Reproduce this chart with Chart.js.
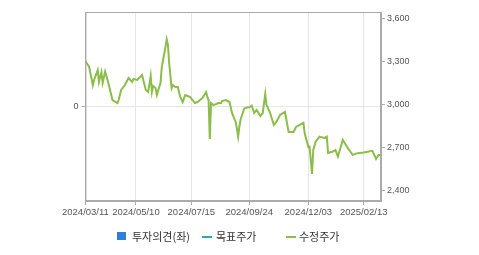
<!DOCTYPE html>
<html>
<head>
<meta charset="utf-8">
<script src="https://cdn.jsdelivr.net/npm/chart.js@4"></script>
<style>
  body { margin: 0; background: #fff; width: 479px; height: 255px; overflow: hidden; position: relative; }
  #wrap { position: absolute; left: 60px; top: 0; width: 419px; height: 255px; }
  .legend { position: absolute; top: 228px; height: 16px; font: 11px "Noto Sans CJK KR", sans-serif; color: #333; line-height: 16px; white-space: nowrap; }
  .legend span { position: absolute; }
  .box { width: 9px; height: 8px; top: 4px; background: #2e7de1; }
  .ln { width: 10px; height: 2px; top: 8px; }
</style>
</head>
<body>
<div id="wrap"><canvas id="chart"></canvas></div>
<div class="legend" style="left:117px"><span class="box" style="left:0"></span><span style="left:15px">투자의견(좌)</span></div>
<div class="legend" style="left:202px"><span class="ln" style="left:0;background:#2aa7b8"></span><span style="left:14px">목표주가</span></div>
<div class="legend" style="left:286px"><span class="ln" style="left:0;background:#8cbd4a"></span><span style="left:13px">수정주가</span></div>
<script>
// ── Data ──────────────────────────────────────────────────────────────────────
// x = trading-day index from 2024/03/11, y = adjusted price (수정주가)
const priceDays = [
    0, 3, 6, 7, 10, 11, 13, 14, 16, 18, 22, 26, 27, 29, 32, 35, 38, 39, 42, 46,
    49, 51, 53, 54, 55, 57, 58, 61, 62, 65, 66, 67, 68, 70, 71, 73, 75, 77, 79, 81,
    83, 85, 87, 89, 91, 93, 95, 98, 99, 100, 101, 102, 104, 106, 108, 110, 111, 114, 117, 119,
    122, 123, 124, 125, 126, 129, 131, 133, 135, 137, 139, 142, 144, 146, 147, 150, 153, 155, 158, 162,
    165, 169, 171, 174, 177, 178, 181, 182, 184, 185, 187, 190, 194, 196, 197, 201, 203, 205, 209, 213,
    217, 221, 226, 233, 236, 238, 240,
];
const priceValues = [
    3300, 3262, 3135, 3170, 3239, 3156, 3225, 3150, 3228, 3170, 3031, 3010, 3031, 3101, 3135, 3184, 3156, 3177, 3170, 3205,
    3101, 3087, 3198, 3087, 3128, 3114, 3066, 3150, 3260, 3399, 3452, 3413, 3288, 3114, 3135, 3121, 3121, 3052, 3017, 3066,
    3059, 3052, 3031, 3010, 3017, 3031, 3045, 3087, 3052, 3031, 2761, 3010, 2996, 3003, 3010, 3010, 3024, 3031, 3017, 2941,
    2879, 2833, 2778, 2847, 2896, 2972, 2979, 2981, 2993, 2941, 2962, 2920, 2941, 3073, 2997, 2941, 2858, 2879, 2927, 2948,
    2809, 2809, 2844, 2858, 2872, 2802, 2705, 2707, 2518, 2684, 2742, 2777, 2768, 2777, 2664, 2673, 2684, 2638, 2754, 2698,
    2650, 2662, 2666, 2678, 2622, 2650, 2650,
];
const dateTickDays = [0, 41, 86, 133, 181, 226];
const dateTickLabels = ["2024/03/11", "2024/05/10", "2024/07/15", "2024/09/24", "2024/12/03", "2025/02/13"];
const priceTicks = [2400, 2700, 3000, 3300, 3600];
const opinionTicks = [0];

// ── Chart ─────────────────────────────────────────────────────────────────────
const tickFont = { family: "Liberation Sans, Arial, sans-serif", size: 9 };
const frameColor = "#aaaaaa";

const frame = {
    id: "frame",
    afterDraw(chart) {
        const { ctx, chartArea: a } = chart;
        ctx.save();
        ctx.strokeStyle = frameColor;
        ctx.lineWidth = 1;
        ctx.strokeRect(a.left + 0.5, a.top + 0.5, a.right - a.left - 1, a.bottom - a.top - 1);
        ctx.restore();
    },
};

new Chart(document.getElementById("chart"), {
    type: "line",
    data: {
        datasets: [{
            label: "수정주가",
            data: priceDays.map((d, i) => ({ x: d, y: priceValues[i] })),
            yAxisID: "price",
            borderColor: "#8cbd4a",
            borderWidth: 2,
            pointRadius: 0,
            tension: 0,
            fill: false,
        }],
    },
    options: {
        responsive: true,
        maintainAspectRatio: false,
        animation: false,
        layout: { padding: { top: 12, left: 0, right: 0, bottom: 0 } },
        plugins: { legend: { display: false }, tooltip: { enabled: false } },
        scales: {
            x: {
                type: "linear",
                min: 0,
                max: 240,
                afterBuildTicks: (s) => { s.ticks = dateTickDays.map((v) => ({ value: v })); },
                afterFit: (s) => { s.height = 54; },
                grid: { color: "#e6e6e6", tickLength: 4, tickColor: frameColor },
                border: { color: frameColor },
                ticks: {
                    font: { family: "Liberation Sans, Arial, sans-serif", size: 9.5 },
                    color: "#555",
                    padding: 2,
                    maxRotation: 0,
                    autoSkip: false,
                    callback: (v) => dateTickLabels[dateTickDays.indexOf(v)],
                },
            },
            opinion: {
                type: "linear",
                position: "left",
                min: -1,
                max: 1,
                afterBuildTicks: (s) => { s.ticks = opinionTicks.map((v) => ({ value: v })); },
                afterFit: (s) => { s.width = 21; },
                grid: { color: "#e6e6e6", tickLength: 4, tickColor: frameColor },
                border: { color: frameColor },
                ticks: { font: tickFont, color: "#555", padding: 3 },
            },
            price: {
                type: "linear",
                position: "right",
                min: 2330,
                max: 3642,
                afterBuildTicks: (s) => { s.ticks = priceTicks.map((v) => ({ value: v })); },
                afterFit: (s) => { s.width = 98; },
                grid: { drawOnChartArea: false, tickLength: 4, tickColor: frameColor },
                border: { color: frameColor },
                ticks: {
                    font: tickFont,
                    color: "#555",
                    padding: 2,
                    callback: (v) => v.toLocaleString("en-US"),
                },
            },
        },
    },
    plugins: [frame],
});
</script>
</body>
</html>
